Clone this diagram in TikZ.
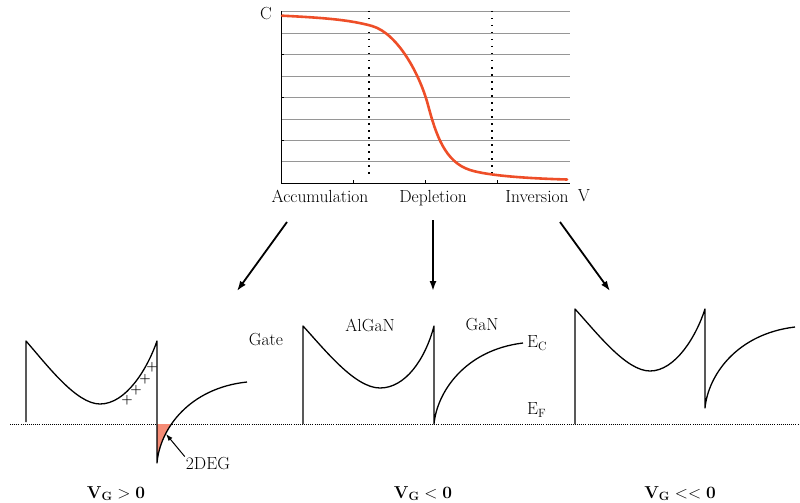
\documentclass[tikz,border=0pt]{standalone}
\usetikzlibrary{arrows.meta}
\definecolor{curvered}{RGB}{238,78,40}
\definecolor{degfill}{RGB}{246,140,118}
\definecolor{gridgray}{RGB}{150,150,150}
\begin{document}
\begin{tikzpicture}[x=1pt,y=-1pt,
  lbl/.style={font=\fontsize{17.5}{20}\selectfont, inner sep=0pt},
  band/.style={line width=1.3pt, line join=round},
  bigarrow/.style={line width=1.8pt, -{Latex[length=10pt,width=7pt]}},
  fermi/.style={line width=0.9pt, dash pattern=on 1pt off 1.1pt},
  vdot/.style={line width=1.5pt, dash pattern=on 1.5pt off 5.5pt},
  grid/.style={gridgray, line width=0.6pt}]
\useasboundingbox (0,0) rectangle (800,503);

% ---------- C-V chart ----------
\foreach \k in {1,...,8} {
  \draw[grid] (281,{183-\k*21.4}) -- (570,{183-\k*21.4});
}
\draw[line width=1pt] (281,11) -- (281,183) -- (570,183);
\foreach \yy in {54.6,97.4,140.2} \draw[line width=0.8pt] (281,\yy) -- (284,\yy);
\foreach \xx in {353,425,497} \draw[line width=0.8pt] (\xx,183) -- (\xx,180);
\draw[vdot] (369,11) -- (369,176);
\draw[vdot] (492,11) -- (492,176);
\draw[curvered, line width=2.6pt, line cap=round]
  (282,15.7) .. controls (330,18) and (352,20.5) .. (372,26)
  .. controls (398,33.5) and (420,75) .. (428,105)
  .. controls (436,135) and (445,162) .. (470,170)
  .. controls (488,175.8) and (530,178.5) .. (567,179.5);

\node[lbl] (cl) at (266,14) {C};
\node[lbl, anchor=base] (vl) at (584,201) {V};
\node[lbl, anchor=base] (acc) at (320,202) {Accumulation};
\node[lbl, anchor=base] (dep) at (433,202) {Depletion};
\node[lbl, anchor=base] (inv) at (537,202) {Inversion};

% ---------- arrows ----------
\coordinate (a1s) at (287,222); \coordinate (a1e) at (237,291);
\coordinate (a2s) at (433,220); \coordinate (a2e) at (433,291);
\coordinate (a3s) at (560,222); \coordinate (a3e) at (610,291);
\draw[bigarrow] (a1s) -- (a1e);
\draw[bigarrow] (a2s) -- (a2e);
\draw[bigarrow] (a3s) -- (a3e);

% ---------- Fermi level ----------
\draw[fermi] (10,424) -- (800,424);

% ---------- panel 1: VG > 0 ----------
\begin{scope}
  \clip (157,424) rectangle (260,470);
  \fill[degfill] (157,463) .. controls (160,428) and (190,388) .. (247,382) -- (157,382) -- cycle;
\end{scope}
\draw[band] (26,422) -- (26,341) .. controls (47.5,365.6) and (76.3,404) .. (100,404)
  .. controls (126,404) and (147.3,369) .. (157,341) -- (157,463)
  .. controls (160,428) and (190,388) .. (247,382);
\foreach \px/\py in {127/400,136/390.5,145/379,152/367.5}
  \node[font=\fontsize{13}{13}\selectfont\bfseries, inner sep=0pt] at (\px,\py) {+};
\node[lbl] (deg) at (208,464) {2DEG};
\coordinate (degtip) at (166,434);
\draw[line width=1pt, -{Latex[length=7pt,width=5pt]}] (deg.north west) ++(-1,-1) -- (degtip);
\node[lbl, anchor=base] (v1) at (116,498) {$\mathbf{V_{\scriptstyle G} > 0}$};

% ---------- panel 2: VG < 0 ----------
\draw[band] (303,424) -- (303,326) .. controls (325,350) and (355,388) .. (380,388)
  .. controls (405,388) and (425,360) .. (434,326) -- (434,424)
  .. controls (437,392) and (465,350) .. (523,343);
\node[lbl] (gate) at (266,340) {Gate};
\node[lbl] (algan) at (370,325) {AlGaN};
\node[lbl] (gan) at (482,325) {GaN};
\node[lbl, anchor=west] (ec) at (527,343) {E$_{\mathrm{C}}$};
\node[lbl, anchor=west] (ef) at (527,410) {E$_{\mathrm{F}}$};
\node[lbl, anchor=base] (v2) at (423,498) {$\mathbf{V_{\scriptstyle G} < 0}$};

% ---------- panel 3: VG << 0 ----------
\draw[band] (575,424) -- (575,309) .. controls (597,333) and (626,371) .. (650,371)
  .. controls (675,371) and (696,337) .. (705,309) -- (705,408)
  .. controls (708,376) and (736,334) .. (795,327);
\node[lbl, anchor=base] (v3) at (680,498) {$\mathbf{V_{\scriptstyle G} << 0}$};
\end{tikzpicture}
\end{document}
